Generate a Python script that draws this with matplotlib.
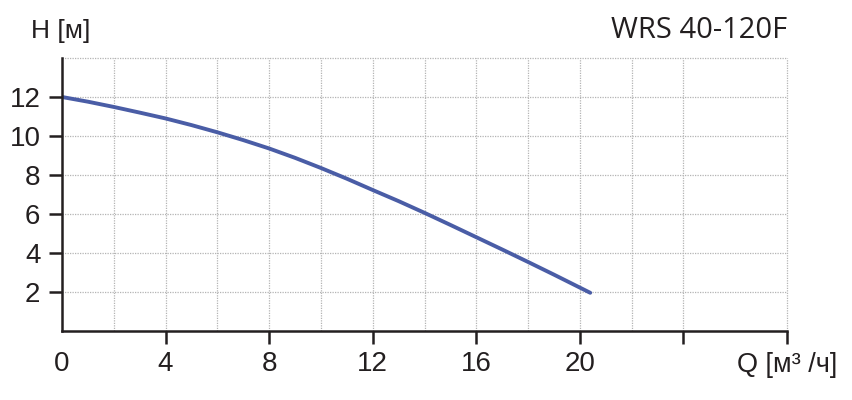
import matplotlib
matplotlib.use("Agg")
import matplotlib.pyplot as plt

# кривая насоса WRS 40-120F
q = [0, 1, 2, 3, 4, 5, 6, 7, 8, 9, 10, 11, 12, 13, 14, 15, 16, 17, 18, 19, 20.4]
h = [12.0, 11.76, 11.49, 11.2, 10.9, 10.56, 10.19, 9.79, 9.36, 8.88, 8.36,
     7.81, 7.23, 6.66, 6.06, 5.44, 4.81, 4.18, 3.54, 2.89, 1.96]

x_ticks = [0, 4, 8, 12, 16, 20, 24, 28]
x_labels = ['0', '4', '8', '12', '16', '20', '', '']
y_ticks = [2, 4, 6, 8, 10, 12]
x_grid = [2, 4, 6, 8, 10, 12, 14, 16, 18, 20, 22, 24, 28]
y_grid = [2, 4, 6, 8, 10, 12, 14]

plt.rcParams['font.family'] = ['Liberation Sans', 'DejaVu Sans']
dark = '#231f20'

fig = plt.figure(figsize=(8.52, 4.0), dpi=100)
ax = fig.add_axes([62 / 852, 69 / 400, 725 / 852, 273 / 400])

ax.plot(q, h, color='#4a5da6', lw=2.8, solid_capstyle='round',
        solid_joinstyle='round', zorder=3)

ax.set_xlim(0, 28)
ax.set_ylim(0, 14)

ax.xaxis.remove_overlapping_locs = False
ax.yaxis.remove_overlapping_locs = False
ax.set_xticks(x_ticks)
ax.set_xticklabels(x_labels)
ax.set_yticks(y_ticks)
ax.set_xticks(x_grid, minor=True)
ax.set_yticks(y_grid, minor=True)
ax.grid(which='minor', color='#b4b4b4', lw=0.9, ls=(0, (1, 1)))
ax.tick_params(which='minor', length=0)
ax.tick_params(which='major', direction='out', length=9.5, width=1.8,
               color=dark, labelcolor=dark, labelsize=20, pad=6)
ax.tick_params(axis='x', pad=5)
ax.xaxis.get_major_ticks()[0].tick1line.set_visible(False)

# линии сетки на краях не обрезать
for t in ax.xaxis.get_minor_ticks() + ax.yaxis.get_minor_ticks():
    t.gridline.set_clip_on(False)

for s in ['top', 'right']:
    ax.spines[s].set_visible(False)
for s in ['left', 'bottom']:
    ax.spines[s].set_color(dark)
    ax.spines[s].set_linewidth(1.8)
    ax.spines[s].set_zorder(4)

fig.text(31 / 852, 1 - 38 / 400, 'H [м]', fontsize=19, color=dark, ha='left', va='baseline')
fig.text(787 / 852, 1 - 38 / 400, 'WRS 40-120F', fontsize=21, color=dark,
         family=['Open Sans', 'DejaVu Sans'], ha='right', va='baseline')
fig.text(837 / 852, 1 - 372 / 400, 'Q [м³ /ч]', fontsize=19.5, color=dark, ha='right', va='baseline')

fig.savefig('out.png', dpi=100, facecolor='white')
